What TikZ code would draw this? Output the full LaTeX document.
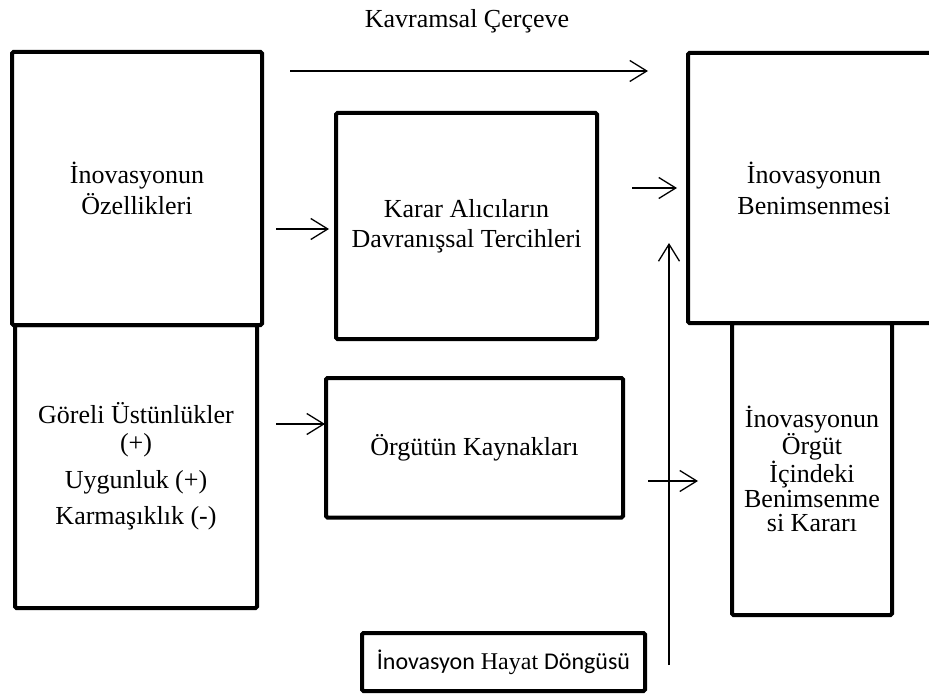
\documentclass[tikz,border=0pt]{standalone}
\usepackage{fontspec}
\setmainfont{Liberation Serif}
\newfontfamily\calibri{Carlito}
\usetikzlibrary{arrows.meta}

\begin{document}
\begin{tikzpicture}[x=1pt, y=-1pt,
		kutu/.style={draw, line width=4pt, rounded corners=1.5pt, align=center, inner sep=0pt, font=\fontsize{26}{31}\selectfont},
		ok/.style={-{Straight Barb[length=17pt, width=21pt, line width=1.3pt]}, line width=1.3pt}]
		\useasboundingbox (0,0) rectangle (929,698);
		\clip (0,0) rectangle (929,698);
		\node (baslik) at (467,21) {\fontsize{26}{31}\selectfont Kavramsal Çerçeve};
		\node[kutu, minimum width=250pt, minimum height=273pt] (ozellik) at (137,188.5) {İnovasyonun\\Özellikleri};
		\node[kutu, minimum width=242pt, minimum height=283pt, font=\fontsize{26}{28}\selectfont] (goreli) at (136,466.5) {Göreli Üstünlükler\\(+)\\[9pt]Uygunluk (+)\\[8pt]Karmaşıklık (-)};
		\node[kutu, minimum width=261pt, minimum height=226pt, font=\fontsize{26}{30}\selectfont] (karar) at (466.5,226) {Karar Alıcıların\\Davranışsal Tercihleri};
		\node[kutu, minimum width=297pt, minimum height=139.5pt] (kaynak) at (474.5,447.75) {Örgütün Kaynakları};
		\node[kutu, minimum width=252pt, minimum height=270pt] (benimseme) at (814,188) {İnovasyonun\\Benimsenmesi};
		\node[kutu, minimum width=160pt, minimum height=292pt, font=\fontsize{26}{24.5}\selectfont] (karari) at (812,469) {İnovasyonun\\Örgüt\\İçindeki\\Benimsenme\\si Kararı};
		\node[kutu, minimum width=283pt, minimum height=58pt, font=\fontsize{24}{29}\selectfont] (hayat) at (503.5,662) {{\calibri İnovasyon} Hayat {\calibri Döngüsü}};
		% oklar
		\coordinate (ust1) at (290,71);
		\coordinate (ust2) at (648,71);
		\coordinate (ozk1) at (276,229);
		\coordinate (ozk2) at (329,229);
		\coordinate (kb1) at (632,188);
		\coordinate (kb2) at (677,188);
		\coordinate (gk1) at (276,424);
		\coordinate (gk2) at (325,424);
		\coordinate (kk1) at (648,481);
		\coordinate (kk2) at (698,481);
		\coordinate (hd1) at (669,665);
		\coordinate (hd2) at (669,243);
		\draw[ok] (ust1) -- (ust2);
		\draw[ok] (ozk1) -- (ozk2);
		\draw[ok] (kb1) -- (kb2);
		\draw[ok] (gk1) -- (gk2);
		\draw[ok] (kk1) -- (kk2);
		\draw[ok] (hd1) -- (hd2);
	\end{tikzpicture}
\end{document}
